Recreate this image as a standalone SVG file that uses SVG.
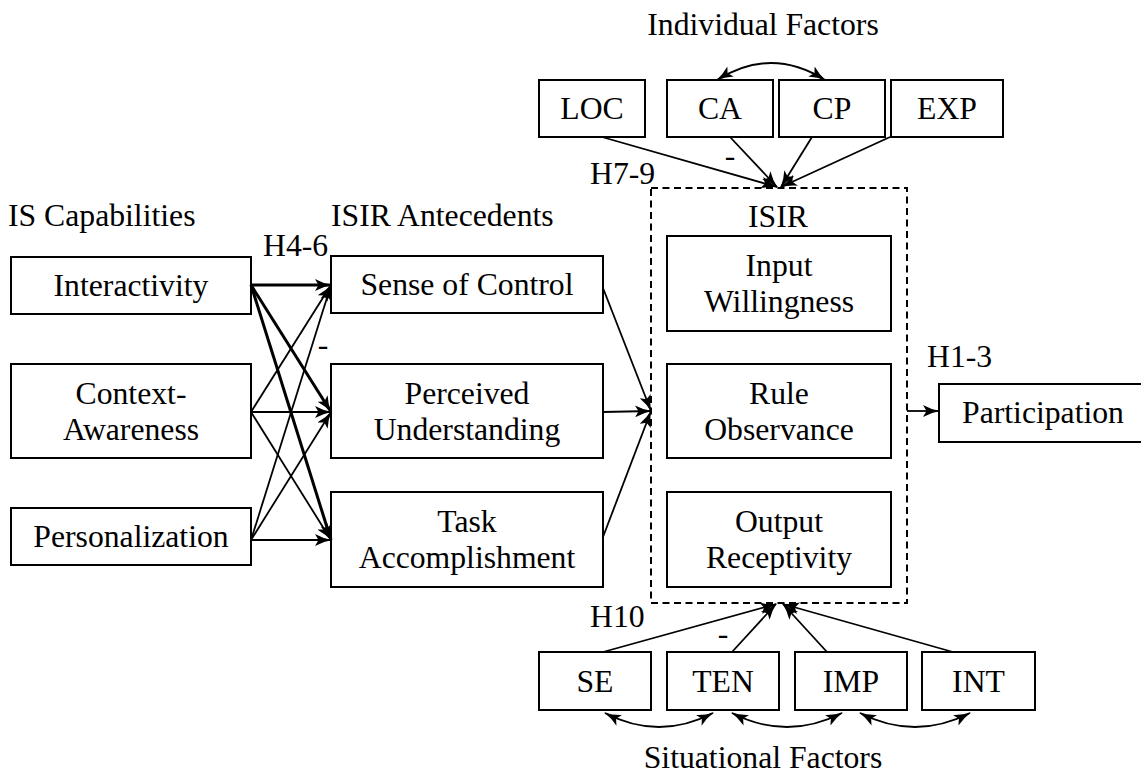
<svg xmlns="http://www.w3.org/2000/svg" width="1141" height="774" viewBox="0 0 1141 774">
  <style>
    .box { fill: #fff; stroke: #000; stroke-width: 2; }
    .lbl { font-family: "Liberation Serif", "Times New Roman", serif; font-size: 31.7px; fill: #000; text-anchor: middle; }
    .lft { text-anchor: start; }
    .edge { fill: none; stroke: #000; stroke-width: 1.8; }
    .bold { stroke-width: 3; }
    .group { fill: none; stroke: #000; stroke-width: 2; stroke-dasharray: 7 4.5; }
  </style>
  <defs>
    <marker id="head" viewBox="0 0 17 12" refX="16" refY="6" markerWidth="17" markerHeight="12" markerUnits="userSpaceOnUse" orient="auto-start-reverse">
      <path d="M0,0 Q8,4.5 17,6 Q8,7.5 0,12 L3.5,6 Z" fill="#000"/>
    </marker>
  </defs>

  <rect width="1141" height="774" fill="#fff"/>

  <!-- section titles -->
  <text class="lbl lft" x="8" y="226">IS Capabilities</text>
  <text class="lbl lft" x="331" y="226">ISIR Antecedents</text>
  <text class="lbl" x="763" y="35">Individual Factors</text>
  <text class="lbl" x="763" y="768">Situational Factors</text>

  <!-- ISIR grouping frame -->
  <g id="isir">
    <rect class="group" x="651" y="188" width="256" height="415"/>
    <text class="lbl" x="778" y="227">ISIR</text>
  </g>

  <!-- IS capabilities -->
  <g id="interactivity">
    <rect class="box" x="11" y="257" width="240" height="57"/>
    <text class="lbl" x="131" y="296">Interactivity</text>
  </g>
  <g id="context-awareness">
    <rect class="box" x="11" y="364" width="240" height="94"/>
    <text class="lbl" x="131" y="403.5">Context-</text>
    <text class="lbl" x="131" y="439.5">Awareness</text>
  </g>
  <g id="personalization">
    <rect class="box" x="11" y="508" width="240" height="57"/>
    <text class="lbl" x="131" y="547">Personalization</text>
  </g>

  <!-- ISIR antecedents -->
  <g id="sense-of-control">
    <rect class="box" x="331" y="256" width="272" height="57"/>
    <text class="lbl" x="467" y="295">Sense of Control</text>
  </g>
  <g id="perceived-understanding">
    <rect class="box" x="331" y="364" width="272" height="94"/>
    <text class="lbl" x="467" y="403.5">Perceived</text>
    <text class="lbl" x="467" y="439.5">Understanding</text>
  </g>
  <g id="task-accomplishment">
    <rect class="box" x="331" y="492" width="272" height="95"/>
    <text class="lbl" x="467" y="532">Task</text>
    <text class="lbl" x="467" y="568">Accomplishment</text>
  </g>

  <!-- ISIR dimensions -->
  <g id="input-willingness">
    <rect class="box" x="667" y="236" width="224" height="95"/>
    <text class="lbl" x="779" y="276">Input</text>
    <text class="lbl" x="779" y="312">Willingness</text>
  </g>
  <g id="rule-observance">
    <rect class="box" x="667" y="364" width="224" height="94"/>
    <text class="lbl" x="779" y="403.5">Rule</text>
    <text class="lbl" x="779" y="439.5">Observance</text>
  </g>
  <g id="output-receptivity">
    <rect class="box" x="667" y="492" width="224" height="95"/>
    <text class="lbl" x="779" y="532">Output</text>
    <text class="lbl" x="779" y="568">Receptivity</text>
  </g>

  <!-- outcome -->
  <g id="participation">
    <rect class="box" x="939" y="384" width="210" height="58"/>
    <text class="lbl" x="1043" y="423">Participation</text>
  </g>

  <!-- individual factors -->
  <g id="loc">
    <rect class="box" x="539" y="80" width="106" height="57"/>
    <text class="lbl" x="592" y="119">LOC</text>
  </g>
  <g id="ca">
    <rect class="box" x="667" y="80" width="106" height="57"/>
    <text class="lbl" x="720" y="119">CA</text>
  </g>
  <g id="cp">
    <rect class="box" x="779" y="80" width="106" height="57"/>
    <text class="lbl" x="832" y="119">CP</text>
  </g>
  <g id="exp">
    <rect class="box" x="891" y="80" width="112" height="57"/>
    <text class="lbl" x="947" y="119">EXP</text>
  </g>

  <!-- situational factors -->
  <g id="se">
    <rect class="box" x="539" y="652" width="112" height="58"/>
    <text class="lbl" x="595" y="692">SE</text>
  </g>
  <g id="ten">
    <rect class="box" x="667" y="652" width="112" height="58"/>
    <text class="lbl" x="723" y="692">TEN</text>
  </g>
  <g id="imp">
    <rect class="box" x="795" y="652" width="112" height="58"/>
    <text class="lbl" x="851" y="692">IMP</text>
  </g>
  <g id="int">
    <rect class="box" x="922" y="652" width="113" height="58"/>
    <text class="lbl" x="978.5" y="692">INT</text>
  </g>

  <!-- paths and hypothesis labels -->
  <g id="connectors">
    <!-- capabilities to antecedents -->
    <line class="edge bold" x1="251" y1="285" x2="331" y2="285" marker-end="url(#head)"/>
    <line class="edge bold" x1="251" y1="285" x2="331" y2="412" marker-end="url(#head)"/>
    <line class="edge bold" x1="251" y1="285" x2="331" y2="540" marker-end="url(#head)"/>
    <line class="edge" x1="251" y1="412" x2="331" y2="285" marker-end="url(#head)"/>
    <line class="edge" x1="251" y1="412" x2="331" y2="412" marker-end="url(#head)"/>
    <line class="edge" x1="251" y1="412" x2="331" y2="540" marker-end="url(#head)"/>
    <line class="edge" x1="251" y1="540" x2="331" y2="285" marker-end="url(#head)"/>
    <line class="edge" x1="251" y1="540" x2="331" y2="412" marker-end="url(#head)"/>
    <line class="edge" x1="251" y1="540" x2="331" y2="540" marker-end="url(#head)"/>

    <!-- antecedents to ISIR -->
    <line class="edge" x1="603" y1="288" x2="651" y2="411" marker-end="url(#head)"/>
    <line class="edge" x1="603" y1="412" x2="651" y2="411" marker-end="url(#head)"/>
    <line class="edge" x1="603" y1="537" x2="651" y2="411" marker-end="url(#head)"/>

    <!-- ISIR to participation -->
    <line class="edge" x1="907" y1="411" x2="939" y2="411" marker-end="url(#head)"/>

    <!-- individual factors to ISIR -->
    <line class="edge" x1="602" y1="137" x2="777" y2="187" marker-end="url(#head)"/>
    <line class="edge" x1="730" y1="137" x2="777" y2="187" marker-end="url(#head)"/>
    <line class="edge" x1="812" y1="137" x2="781" y2="187" marker-end="url(#head)"/>
    <line class="edge" x1="890" y1="137" x2="781" y2="187" marker-end="url(#head)"/>
    <path class="edge" d="M717,80 Q771,46 825,80" marker-start="url(#head)" marker-end="url(#head)"/>

    <!-- situational factors to ISIR -->
    <line class="edge" x1="603" y1="652" x2="776" y2="604" marker-end="url(#head)"/>
    <line class="edge" x1="732" y1="652" x2="776" y2="604" marker-end="url(#head)"/>
    <line class="edge" x1="827" y1="652" x2="783" y2="604" marker-end="url(#head)"/>
    <line class="edge" x1="953" y1="652" x2="783" y2="604" marker-end="url(#head)"/>
    <path class="edge" d="M605,713 Q659,741 713,713" marker-start="url(#head)" marker-end="url(#head)"/>
    <path class="edge" d="M732,713 Q787,741 842,713" marker-start="url(#head)" marker-end="url(#head)"/>
    <path class="edge" d="M860,713 Q915,741 970,713" marker-start="url(#head)" marker-end="url(#head)"/>

    <text class="lbl lft" x="263" y="256">H4-6</text>
    <text class="lbl lft" x="590" y="184">H7-9</text>
    <text class="lbl lft" x="590" y="627">H10</text>
    <text class="lbl lft" x="927" y="367">H1-3</text>
    <text class="lbl" x="323" y="355">-</text>
    <text class="lbl" x="730" y="166">-</text>
    <text class="lbl" x="723" y="644">-</text>
  </g>
</svg>
